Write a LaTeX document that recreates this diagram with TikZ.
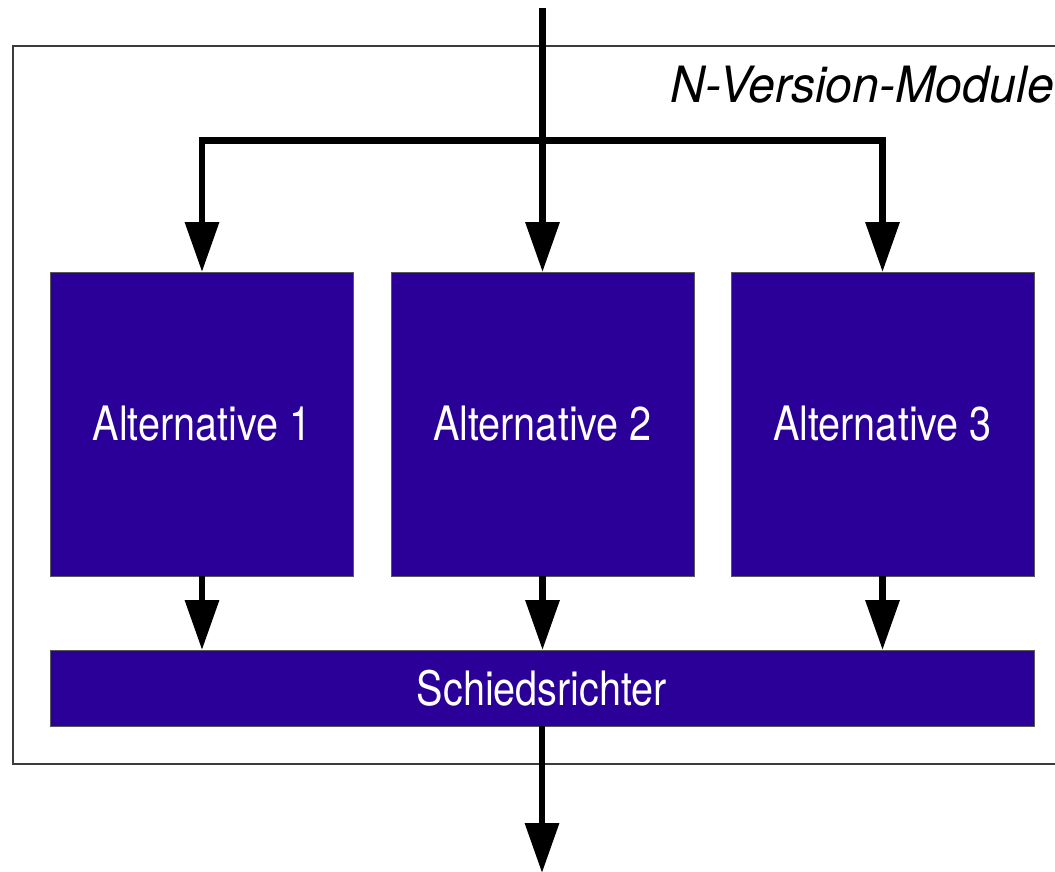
\documentclass[tikz,border=0pt]{standalone}
\usepackage{fontspec}
\setmainfont{TeX Gyre Heros}
\newfontfamily\boxfont{TeX Gyre Heros}[FakeStretch=0.835]
\newfontfamily\titlefont{TeX Gyre Heros}[FakeStretch=0.965]
\usetikzlibrary{arrows.meta}
\definecolor{boxblue}{RGB}{43,0,153}
\definecolor{framegray}{RGB}{60,60,60}
\tikzset{
  blockbox/.style={fill=boxblue, draw=black!65, line width=1pt, text=white,
    font=\boxfont\fontsize{47.4}{50}\selectfont, inner sep=0pt, outer sep=0pt},
  arr/.style={line width=6.5pt, line join=miter,
    -{Triangle[length=50pt, width=33pt]}},
  framebox/.style={draw=framegray, line width=1.3pt},
}
\begin{document}
\begin{tikzpicture}[x=1pt, y=-1pt]
\useasboundingbox (0,0) rectangle (1055,872);
\clip (0,0) rectangle (1055,872);
\fill[white] (0,0) rectangle (1055,872);
% frame
\draw[framebox] (13,46) rectangle (1080,764);
\node[anchor=base east, inner sep=0pt, font=\titlefont\itshape\fontsize{50}{54}\selectfont] (title) at (1054,103) {N-Version-Module};
% boxes
\node[blockbox, minimum width=303pt, minimum height=304pt] (a1) at (202,424) {Alternative 1};
\node[blockbox, minimum width=303pt, minimum height=304pt] (a2) at (542.5,424) {Alternative 2};
\node[blockbox, minimum width=303pt, minimum height=304pt] (a3) at (882.5,424) {Alternative 3};
\node[blockbox, minimum width=984pt, minimum height=76pt] (sr) at (542,688) {Schiedsrichter};
% connectors
\coordinate (in) at (542.5,8);
\coordinate (split) at (542.5,140.5);
\coordinate (out) at (542,873);
\draw[arr] (in) -- (a2.north);
\draw[arr] (split) -| (a1.north);
\draw[arr] (split) -| (a3.north);
\draw[arr] (a1.south) -- (a1.south |- sr.north);
\draw[arr] (a2.south) -- (a2.south |- sr.north);
\draw[arr] (a3.south) -- (a3.south |- sr.north);
\draw[arr] (sr.south) -- (out);
\end{tikzpicture}
\end{document}
